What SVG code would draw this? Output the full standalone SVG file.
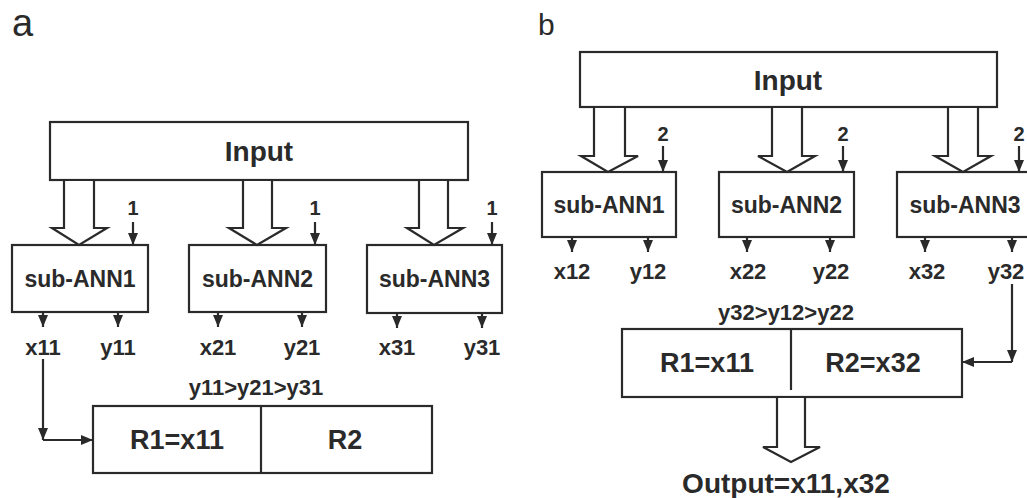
<svg xmlns="http://www.w3.org/2000/svg" width="1027" height="498" viewBox="0 0 1027 498">
<style>
.box{fill:#fff;stroke:#2a2a2a;stroke-width:2.2}
.big{fill:#fff;stroke:#2a2a2a;stroke-width:2.2}
.t{font-family:"Liberation Sans",Arial,sans-serif;font-weight:bold;fill:#2a2a2a;text-anchor:middle}
.lbl{font-family:"Liberation Sans",Arial,sans-serif;fill:#2a2a2a}
.ln{fill:none;stroke:#2a2a2a;stroke-width:2.2;marker-end:url(#ah)}
.div{stroke:#2a2a2a;stroke-width:2.2}
.hol{fill:#fff;stroke:#2a2a2a;stroke-width:2.2;stroke-linejoin:miter}
</style>
<defs>
<marker id="ah" markerUnits="userSpaceOnUse" markerWidth="13" markerHeight="11" refX="12" refY="5.5" orient="auto">
<path d="M0,0.5 L12,5.5 L0,10.5 z" fill="#2a2a2a"/>
</marker>
</defs>
<rect width="1027" height="498" fill="#fff"/>

<!-- Panel a -->
<text class="lbl" x="12" y="36" font-size="38">a</text>
<g id="a-input">
<rect class="big" x="50" y="122" width="418" height="58"/>
<text class="t" x="259" y="161" font-size="28">Input</text>
</g>
<g id="a-sub1">
<rect class="box" x="12" y="245" width="136" height="67"/>
<text class="t" x="80" y="287" font-size="23">sub-ANN1</text>
</g>
<g id="a-sub2">
<rect class="box" x="189" y="245" width="137" height="67"/>
<text class="t" x="257.5" y="287" font-size="23">sub-ANN2</text>
</g>
<g id="a-sub3">
<rect class="box" x="367" y="245" width="135" height="68"/>
<text class="t" x="434.5" y="287" font-size="23">sub-ANN3</text>
</g>
<g id="a-result">
<rect class="box" x="93" y="406" width="339" height="67"/>
<line class="div" x1="261" y1="406" x2="261" y2="473"/>
<text class="t" x="177" y="449" font-size="27">R1=x11</text>
<text class="t" x="345" y="449" font-size="27">R2</text>
</g>

<!-- Panel b -->
<text class="lbl" x="538" y="35" font-size="30">b</text>
<g id="b-input">
<rect class="big" x="580" y="52" width="417" height="55"/>
<text class="t" x="788" y="90" font-size="28">Input</text>
</g>
<g id="b-sub1">
<rect class="box" x="542" y="172" width="134" height="65"/>
<text class="t" x="609" y="213" font-size="23">sub-ANN1</text>
</g>
<g id="b-sub2">
<rect class="box" x="719" y="172" width="135" height="65"/>
<text class="t" x="786.5" y="213" font-size="23">sub-ANN2</text>
</g>
<g id="b-sub3">
<rect class="box" x="897" y="172" width="140" height="65"/>
<text class="t" x="965" y="213" font-size="23">sub-ANN3</text>
</g>
<g id="b-result">
<rect class="box" x="622" y="329" width="340" height="68"/>
<line class="div" x1="791" y1="329" x2="791" y2="390"/>
<text class="t" x="707" y="372" font-size="27">R1=x11</text>
<text class="t" x="873" y="372" font-size="27">R2=x32</text>
</g>

<g id="connectors">
<!-- panel a hollow arrows -->
<path class="hol" d="M64,181 L64,228 L52,228 L79,245 L107,228 L94,228 L94,181"/>
<path class="hol" d="M243,181 L243,228 L229,228 L257,245 L286,228 L272,228 L272,181"/>
<path class="hol" d="M419,181 L419,228 L407,228 L434,245 L463,228 L448,228 L448,181"/>
<!-- panel a "1" inputs -->
<line class="ln" x1="133" y1="222" x2="133" y2="245"/>
<line class="ln" x1="315" y1="222" x2="315" y2="245"/>
<line class="ln" x1="492" y1="222" x2="492" y2="245"/>
<!-- panel a outputs -->
<line class="ln" x1="43" y1="313" x2="43" y2="327"/>
<line class="ln" x1="118" y1="313" x2="118" y2="327"/>
<line class="ln" x1="218" y1="313" x2="218" y2="327"/>
<line class="ln" x1="302" y1="313" x2="302" y2="327"/>
<line class="ln" x1="397" y1="314" x2="397" y2="328"/>
<line class="ln" x1="482" y1="314" x2="482" y2="328"/>
<!-- x11 route -->
<line class="ln" x1="43" y1="359" x2="43" y2="440"/>
<line class="ln" x1="43" y1="440" x2="93" y2="440"/>

<!-- panel b hollow arrows -->
<path class="hol" d="M594,108 L594,156 L581,156 L608,172 L638,156 L625,156 L625,108"/>
<path class="hol" d="M772,108 L772,156 L758,156 L787,172 L815,156 L802,156 L802,108"/>
<path class="hol" d="M948,108 L948,156 L935,156 L963,172 L991,156 L978,156 L978,108"/>
<!-- panel b "2" inputs -->
<line class="ln" x1="663" y1="146" x2="663" y2="172"/>
<line class="ln" x1="843" y1="146" x2="843" y2="172"/>
<line class="ln" x1="1019" y1="146" x2="1019" y2="172"/>
<!-- panel b outputs -->
<line class="ln" x1="572" y1="238" x2="572" y2="252"/>
<line class="ln" x1="648" y1="238" x2="648" y2="252"/>
<line class="ln" x1="747" y1="238" x2="747" y2="252"/>
<line class="ln" x1="830" y1="238" x2="830" y2="252"/>
<line class="ln" x1="925" y1="238" x2="925" y2="252"/>
<line class="ln" x1="1012" y1="238" x2="1012" y2="252"/>
<!-- y32 route -->
<line class="ln" x1="1012" y1="284" x2="1012" y2="362"/>
<line class="ln" x1="1012" y1="362" x2="962" y2="362"/>
<!-- output hollow arrow -->
<path class="hol" d="M777,398 L777,447 L763,447 L791,462 L820,447 L805,447 L805,398"/>
</g>

<g id="labels">
<text class="t" x="133" y="215" font-size="20">1</text>
<text class="t" x="315" y="215" font-size="20">1</text>
<text class="t" x="492" y="215" font-size="20">1</text>
<text class="t" x="43" y="355" font-size="22">x11</text>
<text class="t" x="118" y="355" font-size="22">y11</text>
<text class="t" x="218" y="355" font-size="22">x21</text>
<text class="t" x="302" y="355" font-size="22">y21</text>
<text class="t" x="397" y="355" font-size="22">x31</text>
<text class="t" x="482" y="355" font-size="22">y31</text>
<text class="t" x="256" y="395" font-size="22">y11&gt;y21&gt;y31</text>

<text class="t" x="663" y="141" font-size="20">2</text>
<text class="t" x="843" y="141" font-size="20">2</text>
<text class="t" x="1019" y="141" font-size="20">2</text>
<text class="t" x="572" y="279" font-size="22">x12</text>
<text class="t" x="648" y="279" font-size="22">y12</text>
<text class="t" x="748" y="279" font-size="22">x22</text>
<text class="t" x="831" y="279" font-size="22">y22</text>
<text class="t" x="927" y="279" font-size="22">x32</text>
<text class="t" x="1006" y="279" font-size="22">y32</text>
<text class="t" x="786" y="320" font-size="22">y32&gt;y12&gt;y22</text>
<text class="t" x="786" y="493" font-size="28">Output=x11,x32</text>
</g>
</svg>
